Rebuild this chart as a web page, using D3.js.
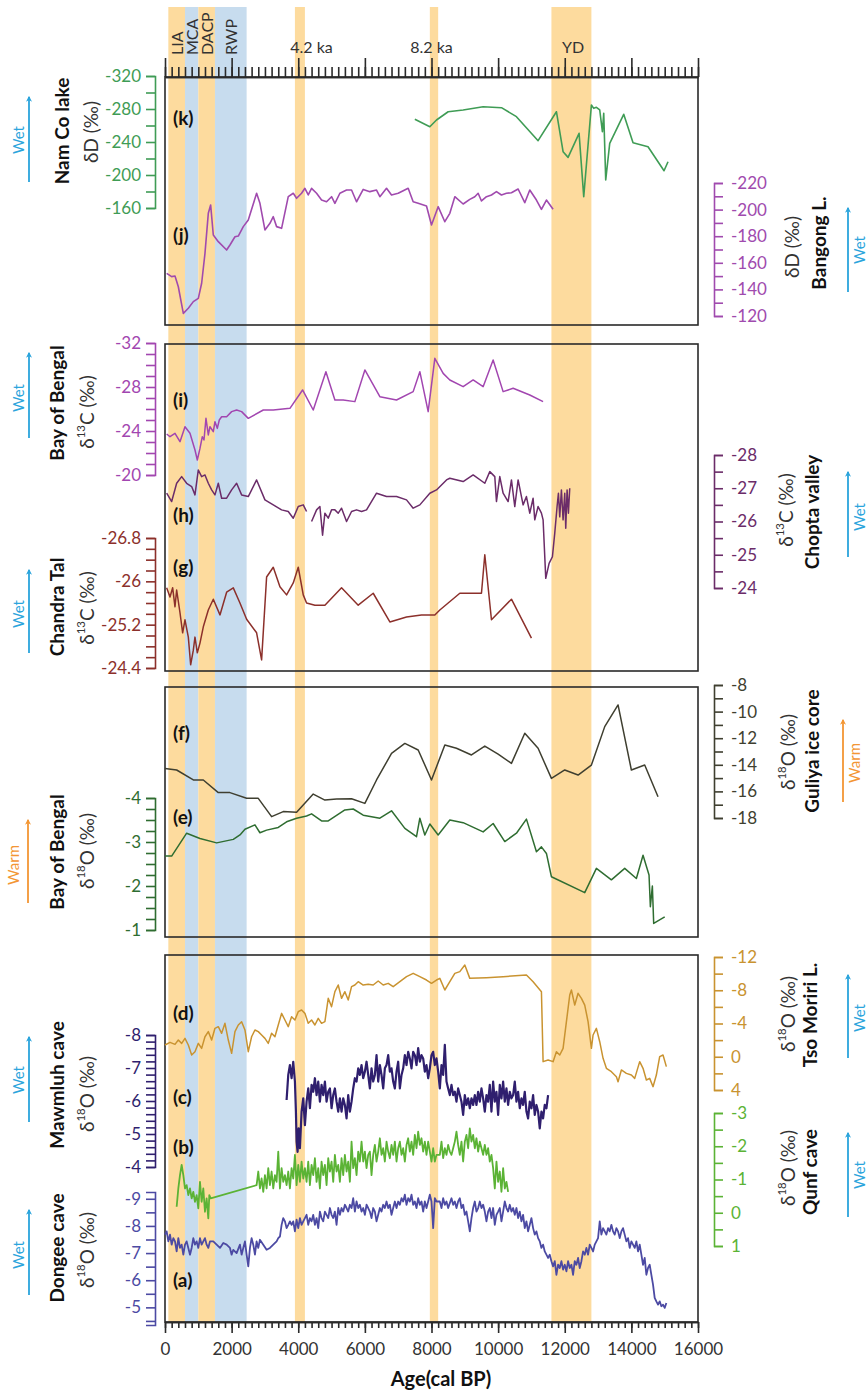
<!DOCTYPE html>
<html>
<head>
<meta charset="utf-8">
<script src="https://cdn.jsdelivr.net/npm/d3@7"></script>
<style>
  body { margin: 0; background: #fff; }
  svg { display: block; font-family: Lato, "Open Sans", "DejaVu Sans", sans-serif; }
</style>
</head>
<body>
<svg id="chart"></svg>
<script>
// Dimensions de la figure
const width = 867, height = 1391;

// Périodes climatiques (bandes verticales)
const periods = [
  { name: "LIA", start: 100, end: 600, kind: "warm" },
  { name: "MCA", start: 600, end: 1000, kind: "cool" },
  { name: "DACP", start: 1000, end: 1500, kind: "warm" },
  { name: "RWP", start: 1500, end: 2450, kind: "cool" },
  { name: "4.2 ka", start: 3900, end: 4200, kind: "warm" },
  { name: "8.2 ka", start: 7950, end: 8200, kind: "warm" },
  { name: "YD", start: 11600, end: 12800, kind: "warm" }
];
const verticalPeriodLabels = ["LIA", "MCA", "DACP", "RWP"];
const ageLabelCenters = { "4.2 ka": 4400, "8.2 ka": 8000, "YD": 12250 };
const ageTicks = [0, 2000, 4000, 6000, 8000, 10000, 12000, 14000, 16000];

// (k) Nam Co lake δD
const namCo = [[7500,-267.5],[7950,-258.5],[8150,-266.7],[8500,-276.7],[8950,-278.8],[9550,-282.8],[10100,-281.6],[10550,-270.7],[11200,-241.6],[11750,-276.7],[11950,-228.2],[12100,-221.4],[12430,-250.5],[12570,-173.7],[12800,-284.8],[12870,-280.8],[12950,-282.0],[13050,-278.8],[13130,-252.5],[13170,-274.8],[13230,-193.9],[13350,-238.4],[13770,-273.6],[14050,-239.2],[14500,-234.3],[14980,-205.2],[15100,-216.1]];
const namCoTickLabels = [-320, -280, -240, -200, -160];

// (j) Bangong L. δD
const bangong = [[50,-152.1],[200,-149.6],[300,-150.1],[400,-142.0],[550,-122.0],[700,-125.8],[850,-130.8],[1000,-133.3],[1100,-144.6],[1200,-167.1],[1300,-197.2],[1370,-203.5],[1450,-180.9],[1600,-175.9],[1850,-169.6],[1950,-173.4],[2100,-179.6],[2200,-180.1],[2350,-187.2],[2500,-192.2],[2750,-212.3],[2850,-204.7],[3000,-184.7],[3150,-189.7],[3250,-194.7],[3350,-187.2],[3500,-185.9],[3700,-209.7],[3850,-212.3],[3950,-208.5],[4100,-212.3],[4200,-216.0],[4300,-211.0],[4400,-216.0],[4550,-212.3],[4700,-207.2],[4850,-205.9],[5000,-209.7],[5100,-204.7],[5250,-212.3],[5450,-214.7],[5600,-214.7],[5750,-205.9],[5950,-215.2],[6150,-213.5],[6350,-214.7],[6450,-209.7],[6650,-216.0],[6800,-211.0],[7000,-212.3],[7300,-216.0],[7450,-205.9],[7600,-204.7],[7850,-202.7],[8000,-188.4],[8200,-202.2],[8400,-190.9],[8550,-197.2],[8700,-209.7],[8950,-204.2],[9150,-207.7],[9300,-209.7],[9400,-212.3],[9500,-206.5],[9650,-209.7],[9800,-211.0],[9950,-213.5],[10100,-211.0],[10250,-212.3],[10400,-212.7],[10600,-215.5],[10800,-205.2],[10950,-214.7],[11150,-207.2],[11300,-200.2],[11450,-207.2],[11650,-200.2]];
const bangongTickLabels = [-220, -200, -180, -160, -140, -120];

// (i) Bay of Bengal δ13C
const bobC13 = [[50,-23.73],[150,-23.48],[300,-23.79],[450,-23.03],[600,-24.39],[750,-23.79],[900,-22.27],[970,-21.36],[1050,-22.42],[1120,-23.48],[1170,-23.18],[1230,-25.15],[1300,-23.64],[1350,-24.39],[1450,-23.94],[1500,-24.85],[1570,-24.24],[1630,-25.00],[1700,-25.30],[1850,-25.30],[2000,-25.76],[2150,-25.91],[2300,-25.76],[2500,-25.15],[2950,-25.91],[3250,-25.91],[3750,-26.06],[4130,-27.73],[4450,-25.91],[4830,-29.39],[5100,-26.82],[5350,-26.82],[5700,-26.67],[6000,-29.55],[6450,-27.12],[6950,-26.82],[7450,-27.58],[7650,-29.39],[7900,-25.76],[8100,-30.61],[8350,-29.24],[8550,-28.64],[8950,-28.03],[9250,-28.64],[9550,-28.03],[9850,-30.45],[10150,-27.58],[10450,-27.88],[10950,-27.27],[11350,-26.67]];
const bobC13TickLabels = [-32, -28, -24, -20];

// (h) Chopta valley δ13C (null = lacune)
const chopta = [[50,-26.85],[200,-26.60],[350,-27.15],[500,-27.35],[650,-27.15],[800,-27.05],[900,-26.80],[1000,-27.55],[1100,-27.35],[1200,-27.40],[1300,-27.15],[1400,-26.95],[1500,-26.80],[1600,-27.15],[1700,-26.70],[1850,-26.70],[2000,-26.95],[2150,-27.15],[2300,-26.80],[2500,-26.75],[2750,-27.25],[3000,-26.65],[3250,-26.50],[3500,-26.35],[3700,-26.30],[3850,-26.10],[4000,-26.45],[4150,-26.50],[4250,-26.30],[4300,null],[4400,-26.00],[4550,-26.35],[4650,-26.45],[4730,-25.59],[4800,-26.25],[4900,-26.10],[5000,-26.35],[5100,-26.35],[5200,-26.25],[5300,-26.40],[5450,-26.00],[5600,-26.30],[5750,-26.35],[5900,-26.30],[6050,-26.35],[6350,-26.85],[6650,-26.75],[6950,-26.75],[7250,-26.65],[7450,-26.40],[7650,-26.50],[7950,-26.85],[8150,-26.95],[8450,-27.25],[8550,-27.30],[8950,-27.20],[9250,-27.40],[9600,-27.15],[9750,-27.50],[9900,-27.35],[9950,-26.60],[10050,-27.35],[10150,-26.85],[10300,-26.60],[10400,-27.25],[10500,-26.45],[10600,-27.25],[10750,-26.50],[10850,-26.75],[10950,-26.25],[11050,-26.70],[11100,-26.05],[11200,-26.45],[11300,-26.25],[11350,-26.05],[11430,-24.29],[11530,-24.74],[11630,-24.94],[11700,-25.65],[11770,-26.45],[11810,-26.85],[11850,-26.14],[11900,-26.95],[11950,-26.05],[12000,-26.85],[12030,-25.80],[12070,-26.95],[12110,-26.25],[12150,-27.00]];
const choptaTickLabels = [-28, -27, -26, -25, -24];

// (g) Chandra Tal δ13C
const chandra = [[50,-25.88],[150,-25.71],[230,-25.88],[300,-25.53],[350,-25.84],[450,-25.42],[530,-25.05],[600,-25.29],[700,-24.97],[770,-24.46],[850,-24.73],[900,-24.97],[970,-24.68],[1050,-24.86],[1150,-25.16],[1300,-25.47],[1450,-25.67],[1650,-25.38],[1850,-25.80],[2050,-25.88],[2250,-25.60],[2450,-25.30],[2750,-25.05],[2900,-24.55],[3050,-26.08],[3250,-26.26],[3450,-25.90],[3650,-25.75],[3850,-25.97],[4000,-26.26],[4150,-25.75],[4250,-25.60],[4500,-25.56],[4800,-25.56],[5300,-25.88],[5800,-25.56],[6250,-25.78],[6750,-25.25],[7250,-25.34],[7700,-25.38],[8100,-25.38],[8250,-25.47],[8850,-25.78],[9500,-25.78],[9600,-26.49],[9800,-25.29],[10400,-25.67],[11000,-24.95]];
const chandraTickLabels = [-26.8, -26, -25.2, -24.4];

// (f) Guliya ice core δ18O
const guliya = [[0,-14.27],[350,-14.39],[850,-15.14],[1150,-15.14],[1600,-16.09],[1950,-16.09],[2450,-16.52],[2800,-16.52],[3200,-17.90],[3550,-17.52],[3950,-17.57],[4450,-16.20],[4800,-16.65],[5150,-16.57],[5600,-16.55],[6000,-16.90],[6350,-15.14],[6800,-13.14],[7200,-12.39],[7600,-12.89],[8000,-15.14],[8400,-12.51],[8750,-12.76],[9200,-13.26],[9600,-12.59],[10000,-13.19],[10400,-13.89],[10800,-11.63],[11200,-12.76],[11600,-15.02],[12000,-14.39],[12400,-14.77],[12800,-14.02],[13200,-11.13],[13600,-9.50],[14000,-14.39],[14400,-14.02],[14800,-16.40]];
const guliyaTickLabels = [-8, -10, -12, -14, -16, -18];

// (e) Bay of Bengal δ18O
const bobO18 = [[0,-2.68],[200,-2.68],[650,-3.20],[1050,-3.08],[1550,-2.98],[2050,-3.06],[2250,-3.16],[2400,-3.29],[2700,-3.39],[2850,-3.21],[3050,-3.27],[3400,-3.33],[3650,-3.46],[3950,-3.54],[4250,-3.59],[4400,-3.64],[4700,-3.48],[4900,-3.48],[5400,-3.73],[5650,-3.75],[5950,-3.61],[6450,-3.54],[6800,-3.71],[7200,-3.31],[7550,-3.12],[7650,-3.54],[7800,-3.16],[7950,-3.41],[8200,-3.16],[8550,-3.50],[8950,-3.44],[9550,-3.23],[9850,-3.42],[10200,-3.01],[10550,-3.20],[10850,-3.52],[11150,-2.78],[11300,-2.89],[11450,-2.74],[11600,-2.21],[12600,-1.85],[12950,-2.40],[13400,-2.14],[13800,-2.40],[14150,-2.17],[14350,-2.70],[14530,-2.25],[14570,-1.53],[14630,-2.00],[14670,-1.15],[15000,-1.30]];
const bobO18TickLabels = [-4, -3, -2, -1];

// (d) Tso Moriri L. δ18O
const tsoMoriri = [[0,-1.41],[150,-1.73],[300,-1.49],[400,-2.01],[500,-1.61],[600,-2.21],[700,-1.41],[800,-0.21],[900,-0.61],[1000,-1.61],[1100,-1.01],[1200,-2.41],[1300,-3.02],[1400,-2.01],[1500,-3.42],[1600,-3.62],[1700,-2.82],[1800,-4.02],[1900,-2.01],[2000,-0.41],[2100,-3.02],[2200,-3.82],[2300,-4.22],[2400,-3.22],[2500,-0.61],[2600,-2.41],[2700,-3.22],[2800,-3.02],[2900,-2.62],[3000,-2.21],[3100,-1.61],[3200,-2.82],[3300,-2.41],[3400,-3.82],[3500,-5.22],[3600,-4.42],[3700,-3.62],[3800,-4.82],[3900,-4.42],[4000,-5.42],[4100,-5.62],[4200,-5.22],[4300,-4.02],[4400,-4.42],[4500,-3.82],[4600,-4.62],[4700,-4.02],[4800,-4.22],[4900,-7.03],[5000,-6.02],[5100,-7.83],[5200,-8.63],[5300,-7.03],[5400,-7.83],[5500,-6.83],[5600,-8.43],[5700,-8.63],[5800,-9.03],[5950,-8.63],[6100,-8.71],[6250,-8.63],[6400,-9.11],[6550,-8.63],[6700,-8.83],[6850,-8.43],[7050,-9.03],[7250,-9.63],[7450,-10.03],[7650,-9.63],[7850,-9.23],[8000,-8.83],[8150,-9.23],[8250,-9.43],[8400,-8.03],[8550,-9.03],[8700,-10.03],[8850,-10.24],[9000,-11.04],[9150,-9.43],[9650,-9.51],[10150,-9.63],[10850,-9.83],[11050,-9.03],[11300,-7.83],[11350,0.59],[11500,0.39],[11650,0.59],[11750,-0.61],[11850,-0.21],[11950,-1.01],[12050,-4.22],[12150,-7.43],[12200,-8.03],[12300,-6.22],[12400,-7.63],[12500,-7.03],[12600,-6.22],[12700,-4.22],[12800,-1.01],[12850,-2.62],[12950,-3.42],[13050,-1.81],[13150,0.19],[13250,1.39],[13400,1.80],[13550,2.40],[13600,3.00],[13700,1.59],[13850,2.00],[14000,2.20],[14100,2.60],[14250,0.59],[14350,1.39],[14450,2.80],[14550,2.60],[14650,3.60],[14750,2.20],[14850,-0.01],[14950,-0.21],[15050,1.19]];
const tsoMoririTickLabels = [-12, -8, -4, 0, 4];

// (c) Mawmluh cave δ18O
const mawmluh = [[3650,-6.03],[3700,-6.79],[3750,-7.09],[3800,-6.69],[3850,-7.19],[3900,-6.59],[3930,-5.68],[3950,-4.77],[3980,-4.46],[4010,-5.17],[4050,-4.57],[4100,-5.68],[4150,-6.08],[4200,-5.27],[4250,-5.98],[4300,-6.38],[4350,-5.78],[4400,-6.49],[4450,-6.28],[4500,-6.69],[4550,-6.18],[4600,-6.59],[4650,-5.98],[4700,-6.49],[4750,-6.18],[4800,-6.59],[4850,-5.98],[4900,-6.28],[4950,-6.38],[5000,-5.78],[5050,-6.18],[5100,-6.38],[5150,-5.98],[5200,-5.68],[5250,-6.08],[5300,-5.68],[5350,-6.08],[5400,-5.88],[5450,-5.47],[5500,-6.18],[5550,-5.68],[5600,-5.98],[5650,-6.38],[5700,-6.69],[5750,-6.59],[5800,-6.99],[5850,-6.79],[5900,-7.09],[5950,-6.69],[6000,-6.89],[6050,-7.19],[6100,-6.79],[6150,-6.38],[6200,-6.99],[6250,-6.59],[6300,-6.79],[6350,-7.39],[6400,-6.59],[6450,-7.09],[6500,-6.79],[6550,-6.38],[6600,-6.99],[6650,-7.09],[6700,-7.39],[6750,-6.89],[6800,-6.99],[6850,-6.59],[6900,-6.38],[6950,-6.89],[7000,-7.19],[7050,-6.38],[7100,-6.79],[7150,-6.99],[7200,-7.39],[7250,-7.09],[7300,-7.49],[7350,-7.29],[7400,-6.99],[7450,-7.49],[7500,-7.39],[7550,-7.09],[7600,-7.60],[7650,-7.19],[7700,-7.39],[7750,-7.29],[7800,-6.89],[7850,-7.09],[7900,-6.69],[7950,-6.99],[8000,-7.39],[8050,-7.49],[8100,-7.09],[8150,-7.29],[8200,-6.89],[8250,-6.38],[8300,-7.09],[8350,-6.79],[8400,-7.70],[8450,-6.59],[8500,-6.38],[8550,-6.18],[8600,-6.49],[8650,-6.18],[8700,-6.28],[8750,-5.98],[8800,-6.38],[8850,-6.18],[8900,-5.98],[8950,-5.58],[9000,-6.18],[9050,-5.88],[9100,-6.08],[9150,-5.78],[9200,-6.08],[9250,-5.88],[9300,-6.18],[9350,-5.88],[9400,-6.28],[9450,-5.98],[9500,-6.38],[9550,-6.08],[9600,-5.68],[9650,-6.18],[9700,-5.98],[9750,-6.49],[9800,-5.68],[9850,-6.59],[9900,-5.98],[9950,-6.28],[10000,-5.58],[10050,-6.49],[10100,-6.08],[10150,-6.59],[10200,-5.98],[10250,-6.38],[10300,-5.88],[10350,-6.28],[10400,-6.08],[10450,-6.18],[10500,-6.59],[10550,-5.98],[10600,-6.28],[10650,-5.78],[10700,-6.08],[10750,-5.88],[10800,-6.28],[10850,-5.68],[10900,-5.47],[10950,-5.98],[11000,-5.78],[11050,-6.18],[11100,-5.58],[11150,-5.88],[11200,-5.68],[11250,-5.17],[11300,-5.68],[11350,-5.47],[11400,-5.88],[11450,-5.78],[11500,-6.18]];
const mawmluhTickLabels = [-8, -7, -6, -5, -4];

// (b) Qunf cave δ18O
const qunf = [[350,-0.18],[400,-0.73],[450,-1.13],[500,-1.44],[550,-1.13],[600,-0.73],[650,-0.83],[700,-0.53],[750,-0.73],[800,-0.43],[850,-0.63],[900,-0.33],[950,-0.53],[1000,-0.13],[1050,-0.93],[1100,-0.33],[1150,-0.73],[1200,-0.03],[1250,-0.43],[1300,0.17],[1330,-0.53],[1370,-0.43],[2750,-0.83],[2800,-1.24],[2850,-0.73],[2900,-1.03],[2950,-0.63],[3000,-1.13],[3050,-0.73],[3100,-1.34],[3150,-0.83],[3200,-1.24],[3250,-0.73],[3300,-1.13],[3350,-0.93],[3400,-1.84],[3450,-0.73],[3500,-1.34],[3550,-0.93],[3600,-1.13],[3650,-0.83],[3700,-1.24],[3750,-0.73],[3800,-1.34],[3850,-1.03],[3900,-1.74],[3950,-0.83],[4000,-1.44],[4050,-0.93],[4100,-1.54],[4150,-1.03],[4200,-1.34],[4250,-0.93],[4300,-1.54],[4350,-0.83],[4400,-1.44],[4450,-1.13],[4500,-1.64],[4550,-0.93],[4600,-1.34],[4650,-0.73],[4700,-1.54],[4750,-1.13],[4800,-1.44],[4850,-0.83],[4900,-1.64],[4950,-1.24],[5000,-1.54],[5050,-0.93],[5100,-1.74],[5150,-1.24],[5200,-1.44],[5250,-0.93],[5300,-1.64],[5350,-1.13],[5400,-1.74],[5450,-1.24],[5500,-1.54],[5550,-0.93],[5600,-2.14],[5650,-1.34],[5700,-1.64],[5750,-1.13],[5800,-1.84],[5850,-1.54],[5900,-2.14],[5950,-1.54],[6000,-1.84],[6050,-1.34],[6100,-1.74],[6150,-1.84],[6200,-1.13],[6250,-1.74],[6300,-2.04],[6350,-1.54],[6400,-1.84],[6450,-2.24],[6500,-1.74],[6550,-1.94],[6600,-1.54],[6650,-2.14],[6700,-1.84],[6750,-1.64],[6800,-2.04],[6850,-1.74],[6900,-2.14],[6950,-1.54],[7000,-1.94],[7050,-2.14],[7100,-1.74],[7150,-1.94],[7200,-1.54],[7250,-2.04],[7300,-2.24],[7350,-1.84],[7400,-2.14],[7450,-1.74],[7500,-2.34],[7550,-1.94],[7600,-2.44],[7650,-2.04],[7700,-2.24],[7750,-1.84],[7800,-2.14],[7850,-1.74],[7900,-2.14],[7950,-1.84],[8000,-1.54],[8050,-1.94],[8100,-1.54],[8150,-1.74],[8250,-1.74],[8300,-2.14],[8350,-1.64],[8400,-1.94],[8450,-1.74],[8500,-2.04],[8550,-1.84],[8600,-1.74],[8650,-1.94],[8700,-2.14],[8750,-2.44],[8800,-2.04],[8850,-1.74],[8900,-2.14],[8950,-1.54],[9000,-2.14],[9050,-2.34],[9100,-1.94],[9150,-2.54],[9200,-2.14],[9250,-2.34],[9300,-1.94],[9350,-2.24],[9400,-1.84],[9450,-2.14],[9500,-1.94],[9550,-1.74],[9600,-2.04],[9650,-1.74],[9700,-1.94],[9750,-1.54],[9800,-1.74],[9850,-1.34],[9900,-0.73],[9950,-1.54],[10000,-0.93],[10050,-1.24],[10100,-0.63],[10150,-1.34],[10200,-0.73],[10250,-0.93],[10300,-0.63]];
const qunfTickLabels = [-3, -2, -1, 0, 1];

// (a) Dongee cave δ18O
const dongee = [[0,-7.68],[50,-7.80],[100,-7.43],[150,-7.68],[200,-7.31],[250,-7.55],[300,-7.43],[350,-7.06],[400,-7.55],[450,-7.19],[500,-7.31],[550,-6.94],[600,-7.31],[650,-7.43],[700,-7.19],[750,-6.94],[800,-7.19],[850,-7.55],[900,-7.31],[950,-7.43],[1000,-7.19],[1050,-7.55],[1100,-7.31],[1150,-7.43],[1200,-7.55],[1250,-7.31],[1300,-7.19],[1350,-7.43],[1450,-7.43],[1550,-7.31],[1650,-7.19],[1750,-7.37],[1850,-7.31],[1950,-7.19],[2000,-6.94],[2050,-7.12],[2150,-7.00],[2250,-7.31],[2300,-6.94],[2350,-7.19],[2400,-7.43],[2450,-6.94],[2500,-6.51],[2550,-7.19],[2600,-7.55],[2650,-7.31],[2700,-6.94],[2750,-7.43],[2800,-7.19],[2850,-7.49],[2950,-7.31],[3050,-7.12],[3150,-7.19],[3250,-7.31],[3350,-7.43],[3400,-7.55],[3450,-7.61],[3500,-8.04],[3550,-8.29],[3600,-8.17],[3650,-7.92],[3700,-8.04],[3750,-8.17],[3800,-8.04],[3850,-8.17],[3900,-7.80],[3950,-8.23],[4000,-7.92],[4050,-8.29],[4100,-8.04],[4150,-8.17],[4200,-8.29],[4250,-8.41],[4300,-8.04],[4350,-8.29],[4400,-8.17],[4450,-8.41],[4500,-8.04],[4550,-8.29],[4600,-7.92],[4650,-8.53],[4700,-8.29],[4750,-8.17],[4800,-8.53],[4850,-8.41],[4900,-8.29],[4950,-8.66],[5000,-8.41],[5050,-8.29],[5100,-8.53],[5150,-8.04],[5200,-8.66],[5250,-8.41],[5300,-8.66],[5350,-8.53],[5400,-8.78],[5450,-8.66],[5500,-8.53],[5550,-8.78],[5600,-8.66],[5650,-9.02],[5700,-8.53],[5750,-8.90],[5800,-8.66],[5850,-8.78],[5900,-8.53],[5950,-8.66],[6000,-8.41],[6050,-8.78],[6100,-8.66],[6150,-8.53],[6200,-8.29],[6250,-8.66],[6300,-8.53],[6350,-8.17],[6400,-8.41],[6450,-8.66],[6500,-8.53],[6550,-8.78],[6600,-8.66],[6650,-8.90],[6700,-8.66],[6750,-8.78],[6800,-8.41],[6850,-8.66],[6900,-8.90],[6950,-8.66],[7000,-8.90],[7050,-8.78],[7100,-9.02],[7150,-8.90],[7200,-9.15],[7250,-8.78],[7300,-9.02],[7350,-8.90],[7400,-9.15],[7450,-8.78],[7500,-8.90],[7550,-8.66],[7600,-9.02],[7650,-8.78],[7700,-8.90],[7750,-8.53],[7800,-8.90],[7850,-8.66],[7900,-8.90],[7950,-9.15],[8000,-8.90],[8050,-7.92],[8100,-9.02],[8150,-8.90],[8250,-8.90],[8300,-8.66],[8350,-9.02],[8400,-8.78],[8450,-8.90],[8500,-8.66],[8550,-8.84],[8600,-9.02],[8650,-8.78],[8700,-8.90],[8750,-8.66],[8800,-8.90],[8850,-9.02],[8900,-8.66],[8950,-8.78],[9000,-8.41],[9050,-8.53],[9100,-8.17],[9150,-7.80],[9200,-8.29],[9250,-8.66],[9300,-8.90],[9350,-8.53],[9400,-8.66],[9450,-8.90],[9500,-8.66],[9550,-8.78],[9600,-8.53],[9650,-8.17],[9700,-8.53],[9750,-8.66],[9800,-8.29],[9850,-8.66],[9900,-8.04],[9950,-8.41],[10000,-8.53],[10050,-8.66],[10100,-8.17],[10150,-8.53],[10200,-8.90],[10250,-8.66],[10300,-8.53],[10350,-8.78],[10400,-8.53],[10450,-8.66],[10500,-8.41],[10550,-8.66],[10600,-8.29],[10650,-8.53],[10700,-8.17],[10750,-8.41],[10800,-7.92],[10850,-8.17],[10900,-7.80],[10950,-8.04],[11000,-8.29],[11050,-7.92],[11100,-7.68],[11150,-7.80],[11200,-7.55],[11250,-7.43],[11300,-7.19],[11350,-7.31],[11400,-7.06],[11450,-6.94],[11500,-6.82],[11550,-6.94],[11600,-6.70],[11650,-6.51],[11700,-6.70],[11750,-6.20],[11800,-6.57],[11850,-6.45],[11900,-6.70],[11950,-6.39],[12000,-6.57],[12050,-6.33],[12100,-6.70],[12150,-6.45],[12200,-6.57],[12250,-6.20],[12300,-6.70],[12350,-6.57],[12400,-6.82],[12450,-6.45],[12500,-6.70],[12550,-7.06],[12600,-6.94],[12650,-7.19],[12700,-6.94],[12750,-7.31],[12800,-7.19],[12850,-7.06],[12900,-7.31],[12950,-7.43],[13000,-7.55],[13050,-8.17],[13100,-7.68],[13150,-7.92],[13200,-7.80],[13250,-7.68],[13300,-7.92],[13350,-7.80],[13400,-8.04],[13450,-7.80],[13500,-7.68],[13550,-7.92],[13600,-7.80],[13650,-7.55],[13700,-7.80],[13750,-7.92],[13800,-7.68],[13850,-7.43],[13900,-7.55],[13950,-7.19],[14000,-7.43],[14050,-7.31],[14100,-7.19],[14150,-7.43],[14200,-7.06],[14250,-7.31],[14300,-6.94],[14350,-6.57],[14400,-6.82],[14450,-6.20],[14500,-6.45],[14550,-6.57],[14600,-6.20],[14650,-5.84],[14700,-5.35],[14750,-5.22],[14800,-5.10],[14850,-5.22],[14900,-5.04],[14950,-5.10],[15000,-4.98],[15050,-5.16]];
const dongeeTickLabels = [-9, -8, -7, -6, -5];

// Couleurs
const colors = {
  namCo: "#3f9c55", bangong: "#a04aae", bobC13: "#a246b0", chopta: "#6b2c69",
  chandra: "#8c302b", guliya: "#3f3f30", bobO18: "#2f6d31", tsoMoriri: "#c99330",
  mawmluh: "#2f1f6e", qunf: "#5bb335", dongee: "#4c4aa3",
  wet: "#2aa4dc", warm: "#f39634", warmBand: "#fddb9e", coolBand: "#c7dcee",
  frame: "#2a2a2a", text: "#333"
};

const svg = d3.select("#chart").attr("width", width).attr("height", height);

// Échelle des âges, commune à tous les panneaux
const x = d3.scaleLinear().domain([0, 16000]).range([165, 698]);

// Cadres des panneaux
const panels = [[77, 325], [344, 671], [687, 937], [955, 1322]];

// Bandes des périodes
svg.append("g").selectAll("rect")
  .data(periods).join("rect")
  .attr("x", d => x(d.start))
  .attr("width", d => x(d.end) - x(d.start))
  .attr("y", 7)
  .attr("height", 1322 - 7)
  .attr("fill", d => d.kind === "warm" ? colors.warmBand : colors.coolBand);

// Étiquettes des périodes
periods.filter(d => verticalPeriodLabels.includes(d.name)).forEach(d => {
  svg.append("text")
    .attr("transform", `translate(${x((d.start + d.end) / 2) + 1},55) rotate(-90)`)
    .attr("dy", "0.35em")
    .attr("font-size", 16)
    .attr("fill", colors.text)
    .text(d.name);
});
Object.entries(ageLabelCenters).forEach(([name, age]) => {
  svg.append("text")
    .attr("x", x(age)).attr("y", 53)
    .attr("text-anchor", "middle")
    .attr("font-size", 16)
    .attr("fill", colors.text)
    .text(name);
});

// Cadres
svg.append("g").selectAll("rect")
  .data(panels).join("rect")
  .attr("x", x(0)).attr("width", x(16000) - x(0))
  .attr("y", d => d[0]).attr("height", d => d[1] - d[0])
  .attr("fill", "none")
  .attr("stroke", colors.frame)
  .attr("stroke-width", 1.6);

// Axes des âges (haut et bas)
const minorAges = d3.range(0, 16001, 200);
function styleAxis(g, color) {
  g.attr("font-family", null).attr("font-size", null);
  g.selectAll("path, line").attr("stroke", color).attr("stroke-width", 1.6);
  g.selectAll("text").attr("fill", color);
}
svg.append("g").attr("transform", "translate(0,77)")
  .call(d3.axisTop(x).tickValues(minorAges).tickSize(10).tickSizeOuter(0).tickFormat(""))
  .call(g => styleAxis(g, colors.frame));
svg.append("g").attr("transform", "translate(0,77)")
  .call(d3.axisTop(x).tickValues(ageTicks).tickSize(19).tickSizeOuter(0).tickFormat(""))
  .call(g => styleAxis(g, colors.frame));
svg.append("g").attr("transform", "translate(0,1322)")
  .call(d3.axisBottom(x).tickValues(minorAges).tickSize(6).tickSizeOuter(0).tickFormat(""))
  .call(g => styleAxis(g, colors.frame));
svg.append("g").attr("transform", "translate(0,1322)")
  .call(d3.axisBottom(x).tickValues(ageTicks).tickSize(11).tickSizeOuter(0).tickPadding(10).tickFormat(d => String(d)))
  .call(g => styleAxis(g, colors.frame))
  .call(g => g.selectAll("text").attr("font-size", 17).attr("fill", colors.text));
svg.append("text")
  .attr("x", 441).attr("y", 1386)
  .attr("text-anchor", "middle")
  .attr("font-size", 20).attr("font-weight", "bold")
  .attr("fill", "#111")
  .text("Age(cal BP)");

// Axes verticaux des séries (graduations à partir de la première étiquette)
function valueAxis(side, scale, step, labels, color) {
  const [a, b] = scale.domain();
  const lo = Math.min(a, b), hi = Math.max(a, b);
  const first = Math.min(...labels);
  const start = first - Math.floor((first - lo) / step + 1e-6) * step;
  const n = Math.floor((hi - start) / step + 1e-6);
  const ticks = d3.range(n + 1).map(i => +(start + i * step).toFixed(4));
  const axis = (side === "left" ? d3.axisLeft(scale) : d3.axisRight(scale))
    .tickValues(ticks)
    .tickSize(9).tickSizeOuter(9)
    .tickPadding(side === "left" ? 5 : 8)
    .tickFormat(v => labels.some(l => Math.abs(l - v) < 1e-6) ? String(v) : "");
  const xPos = side === "left" ? 155 : 714;
  svg.append("g").attr("transform", `translate(${xPos},0)`)
    .call(axis)
    .call(g => styleAxis(g, color))
    .call(g => g.selectAll("text").attr("font-size", 17));
}

// Texte vertical
function vText(xc, yc, parts, opts) {
  const t = svg.append("text")
    .attr("transform", `translate(${xc},${yc}) rotate(-90)`)
    .attr("text-anchor", "middle")
    .attr("dy", "0.35em")
    .attr("font-size", opts.size)
    .attr("font-weight", opts.bold ? "bold" : "normal")
    .attr("fill", opts.color);
  parts.forEach(p => {
    const s = t.append("tspan").text(p.t);
    if (p.sup) s.attr("font-size", opts.size * 0.6).attr("dy", "-0.75em");
    if (p.after) s.attr("dy", "0.45em");
  });
}
const deltaC13 = [{ t: "δ" }, { t: "13", sup: true }, { t: "C (‰)", after: true }];
const deltaO18 = [{ t: "δ" }, { t: "18", sup: true }, { t: "O (‰)", after: true }];
const deltaD = [{ t: "δD (‰)" }];

// Flèches Wet / Warm
const defs = svg.append("defs");
["wet", "warm"].forEach(k => {
  defs.append("marker")
    .attr("id", "head-" + k)
    .attr("viewBox", "0 0 10 10").attr("refX", 8).attr("refY", 5)
    .attr("markerWidth", 6).attr("markerHeight", 6)
    .attr("markerUnits", "userSpaceOnUse")
    .attr("orient", "auto")
    .append("path").attr("d", "M0,0 L10,5 L0,10 L3,5 Z").attr("fill", colors[k]);
});
function indicator(ax, y1, y2, tx, ty, kind) {
  svg.append("line")
    .attr("x1", ax).attr("x2", ax).attr("y1", y1).attr("y2", y2)
    .attr("stroke", colors[kind]).attr("stroke-width", 1.8)
    .attr("marker-end", `url(#head-${kind})`);
  vText(tx, ty, [{ t: kind === "wet" ? "Wet" : "Warm" }], { size: 15, color: colors[kind] });
}

// Tracé d'une série
function series(data, scale, color, w) {
  const line = d3.line()
    .defined(d => d[1] != null)
    .x(d => x(d[0]))
    .y(d => scale(d[1]));
  svg.append("path")
    .datum(data)
    .attr("d", line)
    .attr("fill", "none")
    .attr("stroke", color)
    .attr("stroke-width", w)
    .attr("stroke-linejoin", "round");
}

// Échelles verticales
const yNamCo = d3.scaleLinear().domain([-320, -160]).range([76, 208]);
const yBangong = d3.scaleLinear().domain([-220, -120]).range([183, 316]);
const yBobC13 = d3.scaleLinear().domain([-32, -20]).range([343, 475]);
const yChopta = d3.scaleLinear().domain([-28, -24]).range([455, 588]);
const yChandra = d3.scaleLinear().domain([-26.8, -24.4]).range([538, 668]);
const yGuliya = d3.scaleLinear().domain([-8, -18]).range([685, 818]);
const yBobO18 = d3.scaleLinear().domain([-4, -1]).range([798, 930]);
const yTso = d3.scaleLinear().domain([-12, 4]).range([957, 1090]);
const yQunf = d3.scaleLinear().domain([-3, 1]).range([1113, 1246]);
const yMawmluh = d3.scaleLinear().domain([-8, -4]).range([1035, 1167]);
const yDongee = d3.scaleLinear().domain([-9.25, -4.35]).range([1192, 1325]);

valueAxis("left", yNamCo, 20, namCoTickLabels, colors.namCo);
valueAxis("right", yBangong, 10, bangongTickLabels, colors.bangong);
valueAxis("left", yBobC13, 1, bobC13TickLabels, colors.bobC13);
valueAxis("right", yChopta, 0.5, choptaTickLabels, colors.chopta);
valueAxis("left", yChandra, 0.2, chandraTickLabels, colors.chandra);
valueAxis("right", yGuliya, 1, guliyaTickLabels, colors.guliya);
valueAxis("left", yBobO18, 0.25, bobO18TickLabels, colors.bobO18);
valueAxis("right", yTso, 2, tsoMoririTickLabels, colors.tsoMoriri);
valueAxis("right", yQunf, 0.5, qunfTickLabels, colors.qunf);
valueAxis("left", yMawmluh, 0.2, mawmluhTickLabels, colors.mawmluh);
valueAxis("left", yDongee, 0.5, dongeeTickLabels, colors.dongee);

// Séries
series(namCo, yNamCo, colors.namCo, 1.6);
series(bangong, yBangong, colors.bangong, 1.6);
series(bobC13, yBobC13, colors.bobC13, 1.5);
series(chopta, yChopta, colors.chopta, 1.5);
series(chandra, yChandra, colors.chandra, 1.5);
series(guliya, yGuliya, colors.guliya, 1.5);
series(bobO18, yBobO18, colors.bobO18, 1.5);
series(tsoMoriri, yTso, colors.tsoMoriri, 1.5);
series(mawmluh, yMawmluh, colors.mawmluh, 2.2);
series(qunf, yQunf, colors.qunf, 1.8);
series(dongee, yDongee, colors.dongee, 1.8);

// Titres des axes
const bold = { size: 19, bold: true, color: "#111" };
const unit = { size: 19, color: colors.text };
vText(62, 131, [{ t: "Nam Co lake" }], bold);
vText(91, 132, deltaD, unit);
indicator(29, 182, 97, 19, 140, "wet");

vText(819, 243, [{ t: "Bangong L." }], bold);
vText(792, 247, deltaD, unit);
indicator(848, 292, 208, 860, 250, "wet");

vText(57, 403, [{ t: "Bay of Bengal" }], bold);
vText(87, 412, deltaC13, unit);
indicator(29, 438, 353, 19, 398, "wet");

vText(57, 607, [{ t: "Chandra Tal" }], bold);
vText(87, 608, deltaC13, unit);
indicator(29, 653, 570, 19, 614, "wet");

vText(812, 512, [{ t: "Chopta valley" }], bold);
vText(786, 510, deltaC13, unit);
indicator(848, 557, 472, 860, 517, "wet");

vText(812, 751, [{ t: "Guliya ice core" }], bold);
vText(788, 752, deltaO18, unit);
indicator(843, 802, 720, 855, 763, "warm");

vText(57, 852, [{ t: "Bay of Bengal" }], bold);
vText(87, 851, deltaO18, unit);
indicator(28, 903, 820, 14, 865, "warm");

vText(810, 1015, [{ t: "Tso Moriri L." }], bold);
vText(788, 1014, deltaO18, unit);
indicator(848, 1058, 975, 860, 1018, "wet");

vText(810, 1172, [{ t: "Qunf cave" }], bold);
vText(788, 1168, deltaO18, unit);
indicator(848, 1217, 1133, 860, 1175, "wet");

vText(57, 1085, [{ t: "Mawmluh cave" }], bold);
vText(87, 1094, deltaO18, unit);
indicator(29, 1122, 1037, 19, 1080, "wet");

vText(57, 1248, [{ t: "Dongee cave" }], bold);
vText(87, 1250, deltaO18, unit);
indicator(29, 1295, 1210, 19, 1255, "wet");

// Lettres des panneaux
const panelLetters = [["(k)", 118], ["(j)", 235], ["(i)", 400], ["(h)", 515], ["(g)", 567], ["(f)", 733], ["(e)", 817], ["(d)", 1013], ["(c)", 1097], ["(b)", 1147], ["(a)", 1280]];
svg.append("g").selectAll("text")
  .data(panelLetters).join("text")
  .attr("x", 173).attr("y", d => d[1])
  .attr("dy", "0.35em")
  .attr("font-size", 19).attr("font-weight", "bold")
  .attr("fill", "#111")
  .text(d => d[0]);
</script>
</body>
</html>
